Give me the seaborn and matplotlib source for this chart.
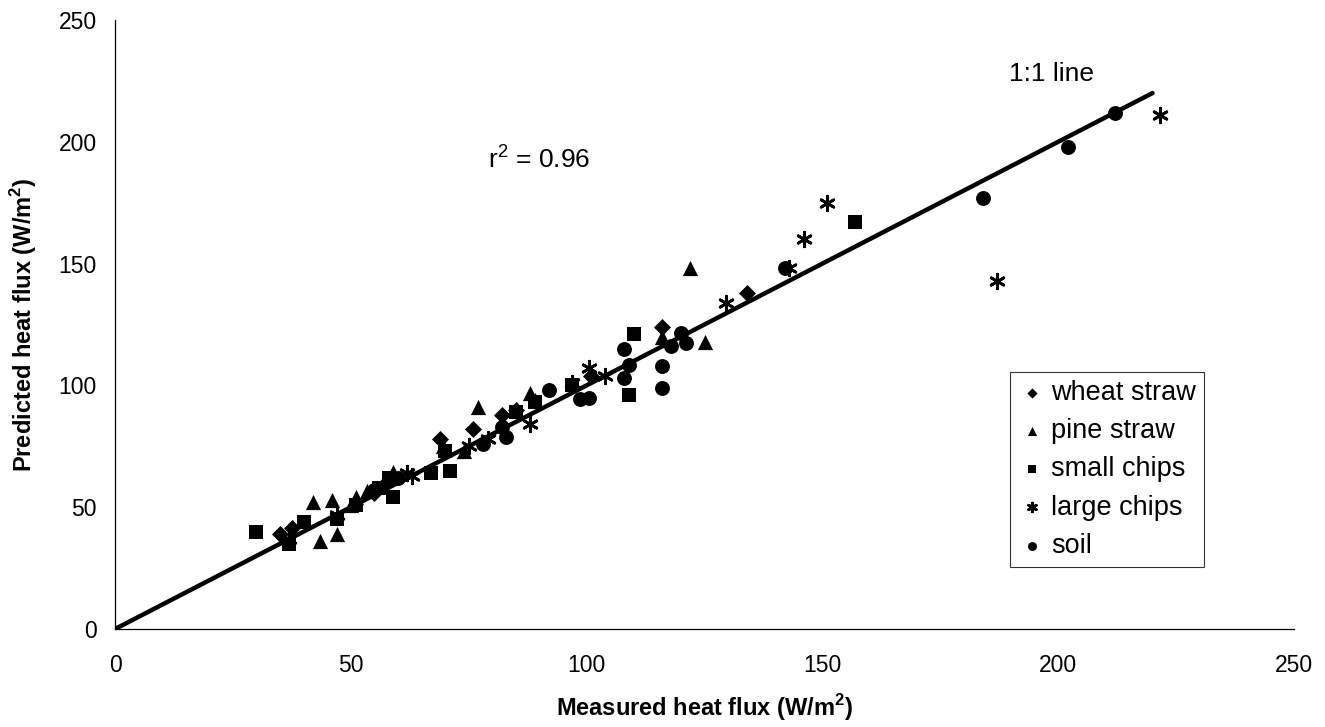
import matplotlib
matplotlib.use("Agg")
import matplotlib.pyplot as plt
import seaborn as sns
import pandas as pd

# ---- data ----
wheat_x = [35, 37.5, 55, 57, 69, 76, 82, 85, 101, 116, 134, 58]
wheat_y = [39, 41.5, 56, 59, 78, 82, 88, 90, 104, 124, 138, 61]

pine_x = [42, 46, 43.5, 47, 51, 53.5, 59, 69.5, 77, 74, 88, 89, 116, 125, 122, 50]
pine_y = [52, 53, 36, 39, 54, 56.5, 64.5, 75, 91, 73, 97, 94, 120, 118, 148, 51]

small_x = [30, 37, 40, 47, 51, 56, 59, 58, 67, 71, 70, 85, 89, 97, 109, 110, 157]
small_y = [40, 35, 44, 45, 51, 58, 54, 62, 64, 65, 73, 89, 93, 100, 96, 121, 167]

large_x = [37, 47, 62, 75, 88, 97, 100.5, 104, 129.5, 143, 146, 151, 187, 221.5, 63, 79]
large_y = [37, 47, 64, 75, 84, 101, 107, 104, 134, 148, 160, 175, 143, 211, 63, 78]

soil_x = [55, 60, 78, 82, 83, 92, 98.5, 100.5, 108, 109, 108, 116, 116, 118, 120, 121, 142, 184, 202, 212]
soil_y = [57, 62, 76, 83, 79, 98, 94.5, 95, 115, 108.5, 103, 108, 99, 116, 121.5, 117.5, 148, 177, 198, 212]

categories = ["wheat straw", "pine straw", "small chips", "large chips", "soil"]
line_x = [0, 220]
line_y = [0, 220]
x_ticks = [0, 50, 100, 150, 200, 250]
y_ticks = [0, 50, 100, 150, 200, 250]

frames = []
for name, xs, ys in zip(categories,
                        [wheat_x, pine_x, small_x, large_x, soil_x],
                        [wheat_y, pine_y, small_y, large_y, soil_y]):
    frames.append(pd.DataFrame({"measured": xs, "predicted": ys, "material": name}))
df = pd.concat(frames, ignore_index=True)

sns.set_style("white")
plt.rcParams["font.family"] = ["Liberation Sans", "DejaVu Sans"]
plt.rcParams["text.color"] = "black"
plt.rcParams["axes.labelcolor"] = "black"

fig = plt.figure(figsize=(13.25, 7.27), dpi=100)
ax = fig.add_axes([0.0868, 0.1348, 0.8898, 0.8377])

markers = {"wheat straw": "D", "pine straw": "^", "small chips": "s",
           "large chips": (6, 2, 0), "soil": "o"}
sizes = {"wheat straw": 75, "pine straw": 120, "small chips": 100,
         "large chips": 110, "soil": 115}

for name in categories:
    sub = df[df["material"] == name]
    m = markers[name]
    lw = 2.0 if name == "large chips" else 0
    sns.scatterplot(data=sub, x="measured", y="predicted", marker=m,
                    s=sizes[name], color="black", linewidth=lw,
                    edgecolor="black", ax=ax, label=name, zorder=3)

sns.lineplot(x=line_x, y=line_y, color="black", linewidth=3.2, ax=ax, zorder=2)

ax.set_xlim(0, 250)
ax.set_ylim(0, 250)
ax.set_xticks(x_ticks)
ax.set_yticks(y_ticks)
ax.tick_params(axis="both", labelsize=16.5, length=5, width=0.8, direction="out",
               colors="black", pad=8)
ax.tick_params(axis="x", pad=13)
for side in ["top", "right"]:
    ax.spines[side].set_visible(False)
for side in ["left", "bottom"]:
    ax.spines[side].set_color("black")
    ax.spines[side].set_linewidth(0.9)

ax.set_xlabel("Measured heat flux (W/m$^\\mathregular{2}$)", fontsize=17,
              fontweight="bold", labelpad=11)
ax.set_ylabel("Predicted heat flux (W/m$^\\mathregular{2}$)", fontsize=17,
              fontweight="bold", labelpad=14)

ax.text(79, 193, "r$^\\mathregular{2}$ = 0.96", fontsize=19, va="center", ha="left")
ax.text(189.5, 228, "1:1 line", fontsize=19, va="center", ha="left")

leg = ax.legend(loc="upper left", bbox_to_anchor=(0.748, 0.4445), fontsize=19.5,
                frameon=True, fancybox=False, edgecolor="black",
                handletextpad=0.2, borderpad=0.3, labelspacing=0.45,
                handlelength=1.0, markerscale=0.6)
leg.get_frame().set_linewidth(0.8)
for t in leg.get_texts():
    t.set_color("black")

fig.savefig("out.png", dpi=100)
